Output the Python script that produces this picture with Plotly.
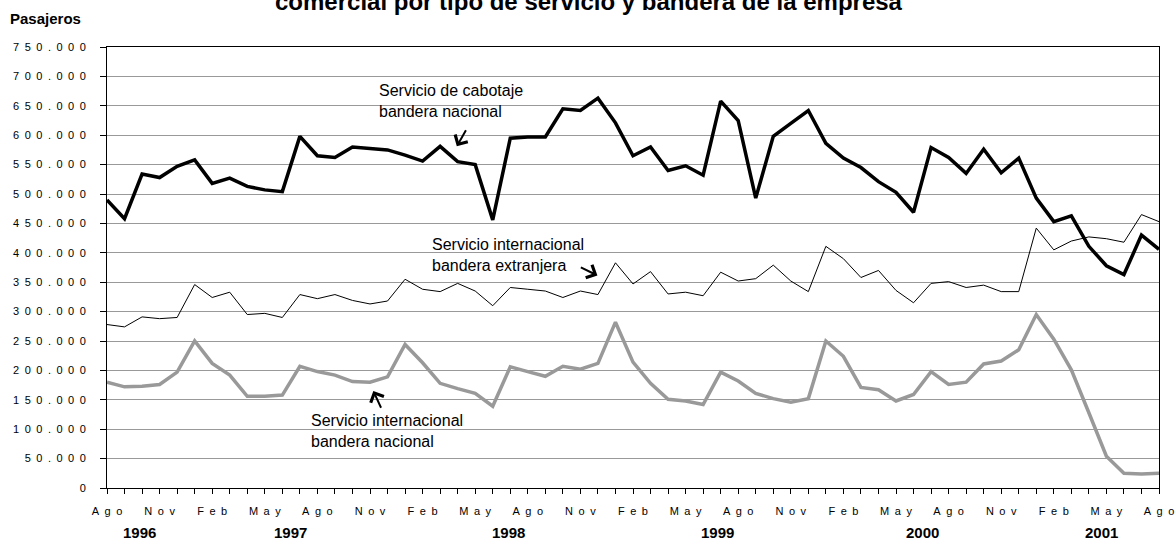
import plotly.graph_objects as go

# ---------------- data ----------------
months = ["Ago", "Sep", "Oct", "Nov", "Dic", "Ene", "Feb", "Mar", "Abr", "May", "Jun", "Jul"] * 5 + ["Ago"]

cabotaje_nacional = [
    490000, 458000, 534000, 528000, 547000, 558000, 518000, 527000, 513000, 507000,
    504000, 598000, 565000, 562000, 580000, 577000, 575000, 566000, 556000, 581000,
    555000, 550000, 456000, 595000, 597000, 597000, 645000, 642000, 663000, 621000,
    565000, 580000, 540000, 548000, 532000, 658000, 625000, 493000, 598000, 620000,
    642000, 586000, 561000, 545000, 521000, 503000, 469000, 579000, 562000, 535000,
    576000, 536000, 561000, 493000, 453000, 463000, 411000, 378000, 363000, 430000,
    406000,
]

internacional_extranjera = [
    278000, 274000, 291000, 288000, 290000, 346000, 324000, 333000, 295000, 297000,
    290000, 329000, 322000, 329000, 319000, 313000, 318000, 355000, 338000, 334000,
    348000, 335000, 310000, 341000, 338000, 335000, 324000, 335000, 329000, 383000,
    347000, 368000, 330000, 333000, 327000, 367000, 352000, 356000, 379000, 352000,
    334000, 411000, 390000, 358000, 370000, 336000, 315000, 348000, 351000, 341000,
    345000, 334000, 334000, 442000, 405000, 420000, 427000, 424000, 418000, 465000,
    453000,
]

internacional_nacional = [
    180000, 172000, 173000, 176000, 197000, 250000, 212000, 192000, 156000, 156000,
    158000, 207000, 198000, 192000, 181000, 180000, 189000, 244000, 213000, 178000,
    169000, 161000, 139000, 206000, 198000, 190000, 207000, 202000, 212000, 282000,
    214000, 178000, 151000, 148000, 142000, 197000, 182000, 161000, 152000, 146000,
    152000, 250000, 224000, 171000, 167000, 148000, 159000, 198000, 176000, 180000,
    211000, 216000, 235000, 295000, 253000, 201000, 128000, 54000, 25000, 24000,
    25000,
]

years = ["1996", "1997", "1998", "1999", "2000", "2001"]
y_ticks = list(range(0, 750001, 50000))

# ---------------- helpers ----------------
FONT = "Liberation Sans, Arial, sans-serif"
EN = "\u2002"


def spaced(s):
    return EN.join(list(s))


def fmt_thousands(v):
    s = f"{v:,}".replace(",", ".")
    return spaced(s)


x_idx = list(range(len(months)))
x_tickvals = x_idx
x_ticktext = [spaced(m) if i % 3 == 0 else "" for i, m in enumerate(months)]

fig = go.Figure()
fig.add_trace(go.Scatter(x=x_idx, y=internacional_nacional, mode="lines",
                         line=dict(color="#999999", width=3.5), name="Servicio internacional bandera nacional"))
fig.add_trace(go.Scatter(x=x_idx, y=internacional_extranjera, mode="lines",
                         line=dict(color="#000000", width=1), name="Servicio internacional bandera extranjera"))
fig.add_trace(go.Scatter(x=x_idx, y=cabotaje_nacional, mode="lines",
                         line=dict(color="#000000", width=3.5), name="Servicio de cabotaje bandera nacional"))

annotations = []
# title (partially cut at the top, as in the reference)
annotations.append(dict(text="comercial por tipo de servicio y bandera de la empresa",
                        xref="paper", yref="paper", x=0.4577, y=1.1027, xanchor="center", yanchor="middle",
                        showarrow=False, font=dict(family=FONT, size=24, color="#000", weight="bold")))
annotations.append(dict(text="Pasajeros", xref="paper", yref="paper", x=-0.0941, y=1.0635,
                        xanchor="left", yanchor="middle", showarrow=False,
                        font=dict(family=FONT, size=15, color="#000", weight="bold")))

# series labels
label_font = dict(family=FONT, size=16, color="#000")
annotations.append(dict(text="Servicio de cabotaje<br>bandera nacional", x=15.4, y=658000,
                        xanchor="left", yanchor="middle", align="left", showarrow=False, font=label_font))
annotations.append(dict(text="Servicio internacional<br>bandera extranjera", x=18.4, y=397000,
                        xanchor="left", yanchor="middle", align="left", showarrow=False, font=label_font))
annotations.append(dict(text="Servicio internacional<br>bandera nacional", x=11.5, y=97000,
                        xanchor="left", yanchor="middle", align="left", showarrow=False, font=label_font))

# arrows
arrow_style = dict(text="", showarrow=True, arrowhead=4, arrowsize=1.4, arrowwidth=2,
                   arrowcolor="#000", axref="x", ayref="y", standoff=0)
annotations.append(dict(x=19.95, y=581000, ax=20.52, ay=611000, **arrow_style))
annotations.append(dict(x=27.97, y=361500, ax=26.94, ay=376300, **arrow_style))
annotations.append(dict(x=15.19, y=165000, ax=15.67, ay=134000, **arrow_style))

# year labels under the month axis
year_pos = [1.84, 10.44, 22.9, 34.8, 46.5, 56.7]
for yr, xp in zip(years, year_pos):
    annotations.append(dict(text=yr, x=xp, xref="x", yref="paper", y=-0.102, xanchor="center",
                            yanchor="middle", showarrow=False,
                            font=dict(family=FONT, size=15, color="#000", weight="bold")))

fig.update_layout(
    width=1175, height=542,
    margin=dict(l=107, r=16, t=47, b=54),
    paper_bgcolor="white", plot_bgcolor="white",
    showlegend=False,
    font=dict(family=FONT, size=11, color="#000"),
    annotations=annotations,
    xaxis=dict(range=[0, 60], tickmode="array", tickvals=x_tickvals, ticktext=x_ticktext,
               showgrid=False, zeroline=False, showline=True, linecolor="#000", linewidth=1,
               mirror=True, ticks="outside", ticklen=5, tickcolor="#000", tickwidth=1,
               tickfont=dict(family=FONT, size=11, color="#000"), ticklabelstandoff=8,
               automargin=False),
    yaxis=dict(range=[0, 750000], tickmode="array", tickvals=y_ticks,
               ticktext=[fmt_thousands(v) for v in y_ticks],
               showgrid=True, gridcolor="#999999", gridwidth=1, zeroline=False,
               showline=True, linecolor="#000", linewidth=1, mirror=True,
               ticks="outside", ticklen=6, tickcolor="#000", tickwidth=1,
               tickfont=dict(family=FONT, size=11, color="#000"), ticklabelstandoff=12,
               automargin=False),
)

fig.write_html("out.html", config={"displayModeBar": False},
               post_script="document.body.style.margin='0';document.body.style.overflow='hidden';")
